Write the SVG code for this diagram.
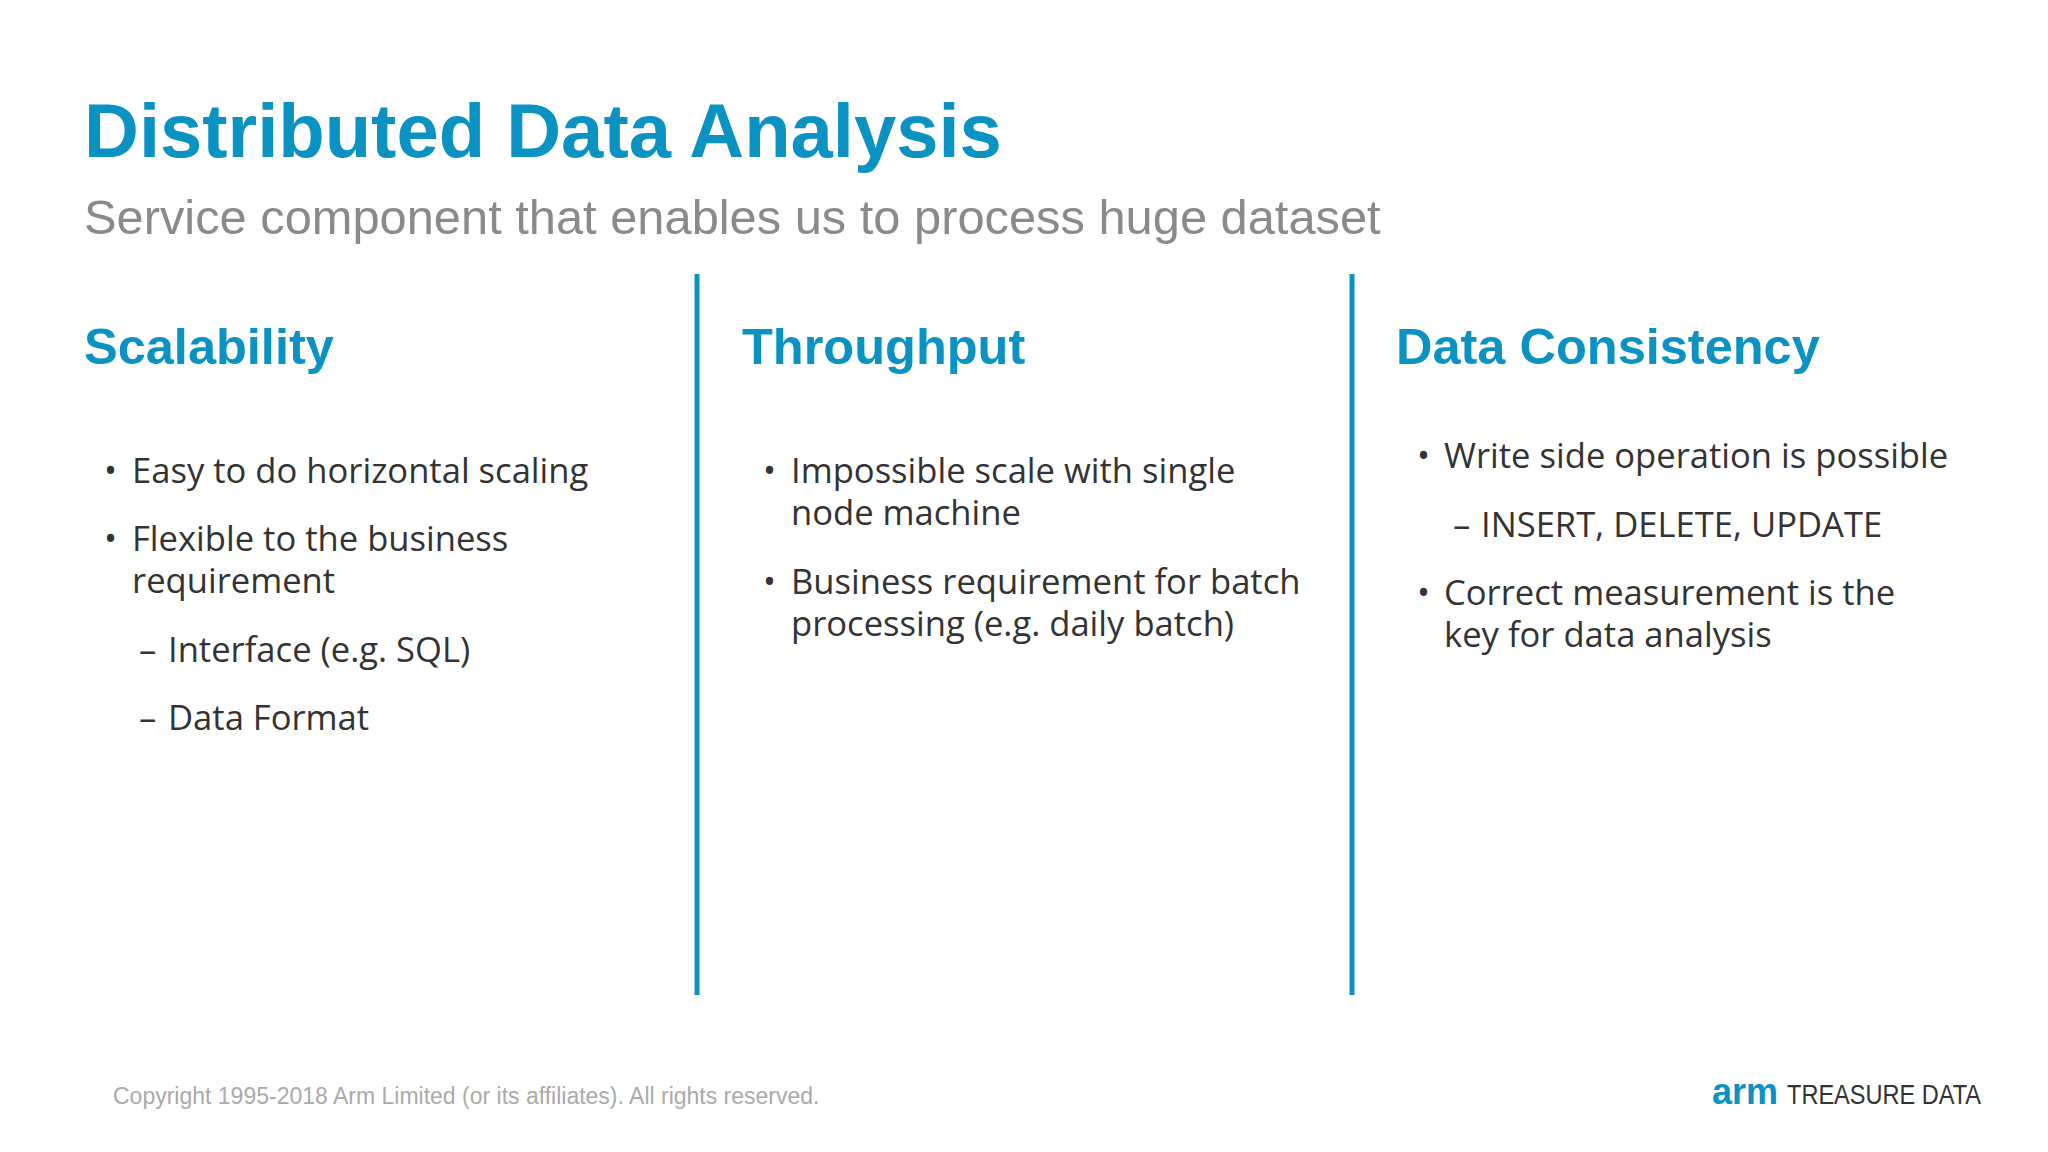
<svg xmlns="http://www.w3.org/2000/svg" width="2048" height="1152" viewBox="0 0 2048 1152">
<style>
.t{font-family:"Liberation Sans",Arial,sans-serif;font-weight:bold;fill:#0a93c2}
.h{font-family:"Liberation Sans",Arial,sans-serif;font-weight:bold;fill:#0a93c2;font-size:50.5px}
.b{font-family:"Open Sans","Noto Sans",sans-serif;fill:#333;font-size:34.6px}
.d{stroke:#0a93c2;stroke-width:5}
</style>
<rect width="2048" height="1152" fill="#fff"/>
<text class="t" x="84" y="157" font-size="76">Distributed Data Analysis</text>
<text x="84" y="234" font-family="Liberation Sans,Arial,sans-serif" font-size="48.8" fill="#8a8a8a">Service component that enables us to process huge dataset</text>
<g id="dividers"><line class="d" x1="697" y1="274" x2="697" y2="995"/><line class="d" x1="1352" y1="274" x2="1352" y2="995"/></g>
<g id="scalability">
<text class="h" x="84" y="364">Scalability</text>
<text class="b" x="104" y="483">•</text><text class="b" x="132" y="483">Easy to do horizontal scaling</text>
<text class="b" x="104" y="551">•</text><text class="b" x="132" y="551">Flexible to the business</text>
<text class="b" x="132" y="593">requirement</text>
<text class="b" x="139" y="662">–</text><text class="b" x="168" y="662">Interface (e.g. SQL)</text>
<text class="b" x="139" y="730">–</text><text class="b" x="168" y="730">Data Format</text>
</g>
<g id="throughput">
<text class="h" x="742" y="364">Throughput</text>
<text class="b" x="763" y="483">•</text><text class="b" x="791" y="483">Impossible scale with single</text>
<text class="b" x="791" y="525">node machine</text>
<text class="b" x="763" y="594">•</text><text class="b" x="791" y="594">Business requirement for batch</text>
<text class="b" x="791" y="636">processing (e.g. daily batch)</text>
</g>
<g id="consistency">
<text class="h" x="1396" y="364">Data Consistency</text>
<text class="b" x="1417" y="468">•</text><text class="b" x="1444" y="468">Write side operation is possible</text>
<text class="b" x="1453" y="537">–</text><text class="b" x="1481" y="537">INSERT, DELETE, UPDATE</text>
<text class="b" x="1417" y="605">•</text><text class="b" x="1444" y="605">Correct measurement is the</text>
<text class="b" x="1444" y="647">key for data analysis</text>
</g>
<text x="113" y="1104" font-family="Liberation Sans,Arial,sans-serif" font-size="23" fill="#aaa">Copyright 1995-2018 Arm Limited (or its affiliates). All rights reserved.</text>
<text x="1712" y="1104" font-family="Liberation Sans,Arial,sans-serif" font-weight="bold" font-size="36" fill="#0a93c2">arm</text>
<text x="1787" y="1104" font-family="Liberation Sans,Arial,sans-serif" font-size="27" fill="#333" textLength="194" lengthAdjust="spacingAndGlyphs">TREASURE DATA</text>
</svg>
